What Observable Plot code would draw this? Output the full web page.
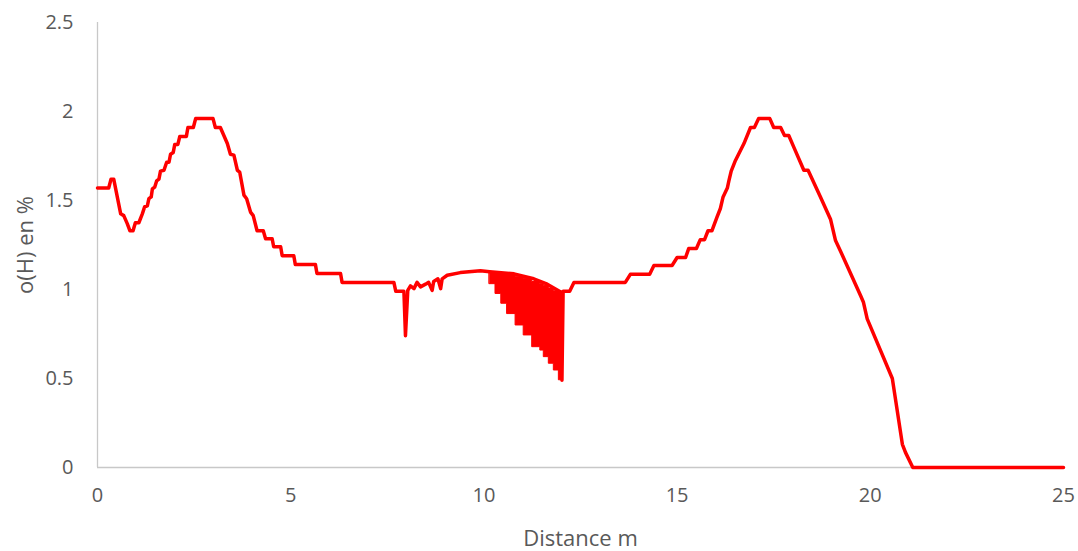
<!DOCTYPE html>
<html>
<head>
<meta charset="utf-8">
<script src="https://cdn.jsdelivr.net/npm/d3@7"></script>
<script src="https://cdn.jsdelivr.net/npm/@observablehq/plot@0.6"></script>
<style>
  html, body { margin: 0; padding: 0; background: #fff; }
  #chart svg { display: block; }
  #chart g[aria-label="x-axis label"] text, #chart g[aria-label="y-axis label"] text { font-size: 22px; }
</style>
</head>
<body>
<div id="chart"></div>
<script>
// Distance (m) and o(H) (%)
const distX = [0, 0.29, 0.35, 0.42, 0.60, 0.68, 0.77, 0.84, 0.92, 0.98, 1.07, 1.16, 1.22, 1.29, 1.33, 1.39, 1.42, 1.48, 1.53, 1.59,
  1.63, 1.72, 1.79, 1.85, 1.89, 1.96, 2.00, 2.08, 2.13, 2.30, 2.34, 2.48, 2.54, 2.99, 3.05, 3.18, 3.27, 3.36, 3.44, 3.53,
  3.62, 3.68, 3.79, 3.86, 3.96, 4.03, 4.13, 4.29, 4.35, 4.52, 4.56, 4.74, 4.78, 5.08, 5.12, 5.64, 5.68, 6.29, 6.33, 7.67,
  7.72, 7.93, 7.97, 8.03, 8.10, 8.19, 8.27, 8.36, 8.49, 8.57, 8.66, 8.70, 8.81, 8.88, 8.92, 9.05, 9.39, 9.91, 10.15, 10.78,
  11.29, 11.64, 12.00, 12.02, 12.05, 12.22, 12.33, 13.66, 13.79, 14.29, 14.40, 14.87, 15.00, 15.22, 15.30, 15.50, 15.60, 15.71, 15.80, 15.90,
  16.03, 16.12, 16.19, 16.30, 16.34, 16.40, 16.51, 16.73, 16.90, 17.00, 17.11, 17.40, 17.50, 17.68, 17.78, 17.89, 18.02, 18.28, 18.39, 18.71,
  18.97, 19.10, 19.23, 19.75, 19.82, 19.92, 20.57, 20.83, 20.91, 21.10, 25];
const distY = [1.57, 1.57, 1.62, 1.62, 1.425, 1.415, 1.37, 1.33, 1.33, 1.375, 1.375, 1.425, 1.465, 1.47, 1.51, 1.52, 1.565, 1.575, 1.61, 1.62,
  1.665, 1.67, 1.715, 1.715, 1.76, 1.77, 1.815, 1.815, 1.86, 1.86, 1.91, 1.91, 1.96, 1.96, 1.91, 1.91, 1.865, 1.82, 1.76, 1.755,
  1.67, 1.66, 1.53, 1.51, 1.435, 1.415, 1.33, 1.33, 1.285, 1.285, 1.24, 1.24, 1.19, 1.19, 1.14, 1.14, 1.09, 1.09, 1.04, 1.04,
  0.99, 0.99, 0.74, 0.995, 1.02, 1.005, 1.04, 1.015, 1.03, 1.04, 0.995, 1.045, 1.06, 1.005, 1.06, 1.08, 1.095, 1.105, 1.10, 1.088,
  1.06, 1.03, 0.985, 0.49, 0.99, 0.99, 1.04, 1.04, 1.085, 1.085, 1.135, 1.135, 1.18, 1.18, 1.23, 1.23, 1.28, 1.28, 1.33, 1.33,
  1.405, 1.455, 1.52, 1.57, 1.61, 1.665, 1.725, 1.82, 1.91, 1.91, 1.96, 1.96, 1.91, 1.91, 1.865, 1.865, 1.80, 1.67, 1.67, 1.52,
  1.395, 1.275, 1.215, 0.965, 0.93, 0.835, 0.50, 0.13, 0.085, 0, 0];

// Dense oscillating section (10–12 m): lower and upper envelope of the filled band
const spikeX    = [10.15, 10.30, 10.45, 10.60, 10.82, 11.03, 11.25, 11.46, 11.55, 11.68, 11.81, 11.94, 12.02];
const spikeLow  = [1.03, 0.975, 0.92, 0.862, 0.798, 0.742, 0.676, 0.657, 0.62, 0.583, 0.545, 0.49, 0.49];
const spikeHigh = [1.095, 1.092, 1.088, 1.083, 1.072, 1.06, 1.042, 1.03, 1.02, 1.005, 0.99, 0.985, 0.985];

const xTicks = [0, 5, 10, 15, 20, 25];
const yTicks = [0, 0.5, 1, 1.5, 2, 2.5];

const line = distX.map((x, i) => ({x, y: distY[i]}));
const band = spikeX.map((x, i) => ({x, lo: spikeLow[i], hi: spikeHigh[i]}));

const chart = Plot.plot({
  width: 1078,
  height: 551,
  marginLeft: 97,
  marginRight: 15,
  marginTop: 22,
  marginBottom: 84,
  style: {fontFamily: "'Open Sans', sans-serif", fontSize: "20px", color: "#595959", background: "#fff"},
  x: {domain: [0, 25], ticks: xTicks, tickSize: 0, tickPadding: 20, label: "Distance m", labelAnchor: "center", labelArrow: "none", labelOffset: 78},
  y: {domain: [0, 2.5], ticks: yTicks, tickSize: 0, tickPadding: 24, label: "o(H) en %", labelAnchor: "center", labelArrow: "none", labelOffset: 80, tickFormat: d => String(d)},
  marks: [
    Plot.ruleX([0], {stroke: "#c8c8c8", strokeWidth: 1.3}),
    Plot.ruleY([0], {stroke: "#c8c8c8", strokeWidth: 1.3}),
    Plot.areaY(band, {x: "x", y1: "lo", y2: "hi", curve: "step-after", fill: "#ff0000", stroke: "#ff0000", strokeWidth: 1}),
    Plot.line(line, {x: "x", y: "y", stroke: "#ff0000", strokeWidth: 3.5, strokeLinejoin: "round"})
  ]
});
document.getElementById("chart").appendChild(chart);
</script>
</body>
</html>
